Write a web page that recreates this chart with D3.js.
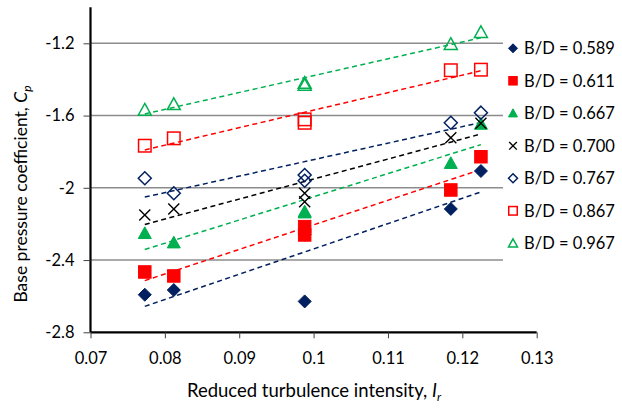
<!DOCTYPE html>
<html>
<head>
<meta charset="utf-8">
<script src="https://cdn.jsdelivr.net/npm/d3@7"></script>
<style>
  body { margin: 0; background: #fff; }
  svg { display: block; font-family: Lato, "Noto Sans", sans-serif; }
</style>
</head>
<body>
<svg id="chart" width="622" height="408"></svg>
<script>
// ---- data ----
const xValues = [0.0773, 0.0812, 0.0988, 0.0988, 0.11845, 0.1225];
const seriesNames = ["B/D = 0.589", "B/D = 0.611", "B/D = 0.667", "B/D = 0.700", "B/D = 0.767", "B/D = 0.867", "B/D = 0.967"];
const s0589 = [-2.592, -2.566, -2.629, -2.26, -2.117, -1.907];
const s0611 = [-2.466, -2.488, -2.215, -2.261, -2.012, -1.828];
const s0667 = [-2.252, -2.304, -2.132, -2.138, -1.864, -1.647];
const s0700 = [-2.151, -2.117, -2.030, -2.077, -1.723, -1.643];
const s0767 = [-1.947, -2.030, -1.929, -1.961, -1.640, -1.584];
const s0867 = [-1.767, -1.726, -1.621, -1.640, -1.349, -1.346];
const s0967 = [-1.569, -1.538, -1.431, -1.420, -1.205, -1.139];
const xTicks = [0.07, 0.08, 0.09, 0.1, 0.11, 0.12, 0.13];
const yTicks = [-2.8, -2.4, -2, -1.6, -1.2];

const seriesValues = [s0589, s0611, s0667, s0700, s0767, s0867, s0967];
const styles = [
  {shape: "diamond", fill: true,  color: "#002060"},
  {shape: "square",  fill: true,  color: "#FF0000"},
  {shape: "triangle",fill: true,  color: "#00B050"},
  {shape: "x",       fill: false, color: "#000000"},
  {shape: "diamond", fill: false, color: "#002060"},
  {shape: "square",  fill: false, color: "#FF0000"},
  {shape: "triangle",fill: false, color: "#00B050"}
];

const svg = d3.select("#chart");
const x = d3.scaleLinear().domain([0.07, 0.13]).range([90.5, 536.7]);
const y = d3.scaleLinear().domain([-2.8, -1.0]).range([332.3, 7.2]);
const gridRight = 503;

// gridlines
svg.append("g").selectAll("line").data(yTicks.filter(d => d > -2.8)).join("line")
  .attr("x1", x(0.07)).attr("x2", gridRight)
  .attr("y1", d => y(d)).attr("y2", d => y(d))
  .attr("stroke", "#8c8c8c").attr("stroke-width", 1.5);

// axes
const fmt = d => (+d.toFixed(2)).toString();
const xAxis = svg.append("g").attr("transform", `translate(0,${y(-2.8)})`)
  .call(d3.axisBottom(x).tickValues(xTicks).tickFormat(fmt).tickSize(6).tickPadding(14));
const yAxis = svg.append("g").attr("transform", `translate(${x(0.07)},0)`)
  .call(d3.axisLeft(y).tickValues(yTicks).tickFormat(fmt).tickSize(7).tickPadding(9));
[xAxis, yAxis].forEach(g => {
  g.select(".domain").attr("stroke", "#000").attr("stroke-width", 2.2);
  g.selectAll(".tick line").attr("stroke", "#404040").attr("stroke-width", 1);
  g.selectAll(".tick text").attr("font-size", 16.5).attr("fill", "#000")
    .attr("font-family", "Lato, 'Noto Sans', sans-serif");
});
xAxis.select(".domain").attr("d", `M${x(0.07)},0H${x(0.13)}`);
yAxis.select(".domain").attr("d", `M0,${y(-1.0)}V${y(-2.8)}`);

// trendlines (least-squares fits of each series)
function fit(xs, ys) {
  const mx = d3.mean(xs), my = d3.mean(ys);
  let sxy = 0, sxx = 0;
  xs.forEach((v, i) => { sxy += (v - mx) * (ys[i] - my); sxx += (v - mx) * (v - mx); });
  const b = sxy / sxx;
  return v => my + b * (v - mx);
}
const xMin = d3.min(xValues), xMax = d3.max(xValues);
seriesValues.forEach((vals, i) => {
  const f = fit(xValues, vals);
  svg.append("line")
    .attr("x1", x(xMin)).attr("y1", y(f(xMin)))
    .attr("x2", x(xMax)).attr("y2", y(f(xMax)))
    .attr("stroke", styles[i].color).attr("stroke-width", 1.5)
    .attr("stroke-dasharray", "5,3.5");
});

// markers
function drawMarker(g, st, cx, cy, s) {
  const h = s / 2;
  let el;
  if (st.shape === "diamond") {
    el = g.append("path").attr("d", `M${cx},${cy - h}L${cx + h},${cy}L${cx},${cy + h}L${cx - h},${cy}Z`);
  } else if (st.shape === "square") {
    el = g.append("rect").attr("x", cx - h).attr("y", cy - h).attr("width", s).attr("height", s);
  } else if (st.shape === "triangle") {
    el = g.append("path").attr("d", `M${cx},${cy - h}L${cx + h},${cy + h * 0.8}L${cx - h},${cy + h * 0.8}Z`);
  } else {
    const k = h * 0.85;
    el = g.append("path").attr("d", `M${cx - k},${cy - k}L${cx + k},${cy + k}M${cx + k},${cy - k}L${cx - k},${cy + k}`);
  }
  if (st.shape === "x") {
    el.attr("fill", "none").attr("stroke", st.color).attr("stroke-width", 1.4);
  } else if (st.fill) {
    el.attr("fill", st.color).attr("stroke", st.color).attr("stroke-width", 1);
  } else {
    el.attr("fill", "none").attr("stroke", st.color).attr("stroke-width", 1.5);
  }
}
const sizes = {diamond: 13, square: 12.5, triangle: 13, x: 13};
seriesValues.forEach((vals, i) => {
  const g = svg.append("g");
  vals.forEach((v, j) => drawMarker(g, styles[i], x(xValues[j]), y(v), sizes[styles[i].shape]));
});

// legend
const legend = svg.append("g");
legend.append("rect").attr("x", 505).attr("y", 28).attr("width", 117).attr("height", 232).attr("fill", "#fff");
const legSizes = {diamond: 9, square: 8.5, triangle: 9, x: 9};
seriesNames.forEach((name, i) => {
  const cy = 48.3 + i * 32.5;
  drawMarker(legend, styles[i], 513, cy, legSizes[styles[i].shape]);
  legend.append("text").attr("x", 524).attr("y", cy).attr("dy", "0.35em")
    .attr("font-size", 16.5).attr("fill", "#000").text(name);
});

// axis titles
const xt = svg.append("text").attr("x", 314).attr("y", 397).attr("text-anchor", "middle")
  .attr("font-size", 18.5).attr("fill", "#000");
xt.append("tspan").text("Reduced turbulence intensity, ");
xt.append("tspan").attr("font-style", "italic").text("I");
xt.append("tspan").attr("font-style", "italic").attr("font-size", 12).attr("dy", 4).text("r");

const yt = svg.append("text").attr("transform", "translate(27,194) rotate(-90)")
  .attr("text-anchor", "middle").attr("font-size", 17.5).attr("fill", "#000");
yt.append("tspan").text("Base pressure coefficient, ");
yt.append("tspan").attr("font-style", "italic").text("C");
yt.append("tspan").attr("font-style", "italic").attr("font-size", 12).attr("dy", 4).text("p");
</script>
</body>
</html>
